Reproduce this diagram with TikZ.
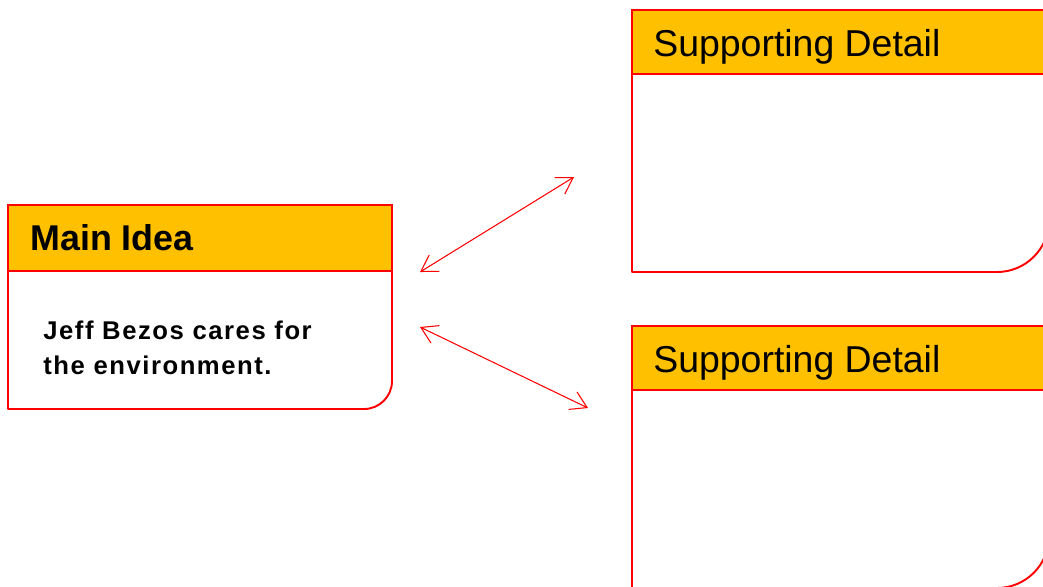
\documentclass[tikz,border=0pt]{standalone}
\usepackage{fontspec}
\setmainfont{Liberation Sans}
\usetikzlibrary{arrows.meta}
\definecolor{cabecera}{HTML}{FFC000}
\definecolor{rojo}{HTML}{FF0000}
\tikzset{
  marco/.style={draw=rojo, line width=1.1pt, line join=round},
  cabeza/.style={fill=cabecera, draw=rojo, line width=0.8pt},
  flecha/.style={draw=rojo, line width=0.6pt,
    {Straight Barb[length=9pt,width=11pt]}-{Straight Barb[length=9pt,width=11pt]}},
}
\begin{document}
\begin{tikzpicture}[x=0.02cm, y=-0.02cm]
  \useasboundingbox (0,0) rectangle (1043,586);
  \clip (0,0) rectangle (1043,586);
  % la caja de la idea principal
  \draw[marco] (8,271) -- (8,409) -- (364,409) arc[start angle=90, end angle=0, radius=28] -- (392,271);
  \filldraw[cabeza] (8,205) rectangle (392,271);
  \node[anchor=base west, inner sep=0pt, font=\bfseries\fontsize{20.4pt}{24pt}\selectfont] (main) at (30,250) {Main Idea};
  \node[anchor=base west, inner sep=0pt, align=left,
    font=\bfseries\fontsize{14.6pt}{19.8pt}\selectfont\addfontfeature{LetterSpace=6}] (idea) at (43,374)
    {Jeff Bezos cares for\\the environment.};
  % las dos cajas de los detalles, que se salen por la derecha
  \foreach \t/\n in {10/detA, 326/detB} {
    \draw[marco] (632,\t+64) -- (632,\t+262) -- (997,\t+262) arc[start angle=90, end angle=0, radius=52] -- (1049,\t+64);
    \filldraw[cabeza] (632,\t) rectangle (1049,\t+64);
    \node[anchor=base west, inner sep=0pt, font=\fontsize{21.3pt}{26pt}\selectfont] (\n) at (653,\t+46) {Supporting Detail};
  }
  % las flechas, con una punta en cada extremo
  \coordinate (pA) at (420,272);
  \coordinate (qA) at (574,177);
  \coordinate (pB) at (420,327);
  \coordinate (qB) at (588,408);
  \draw[flecha] (pA) -- (qA);
  \draw[flecha] (pB) -- (qB);
\end{tikzpicture}
\end{document}
